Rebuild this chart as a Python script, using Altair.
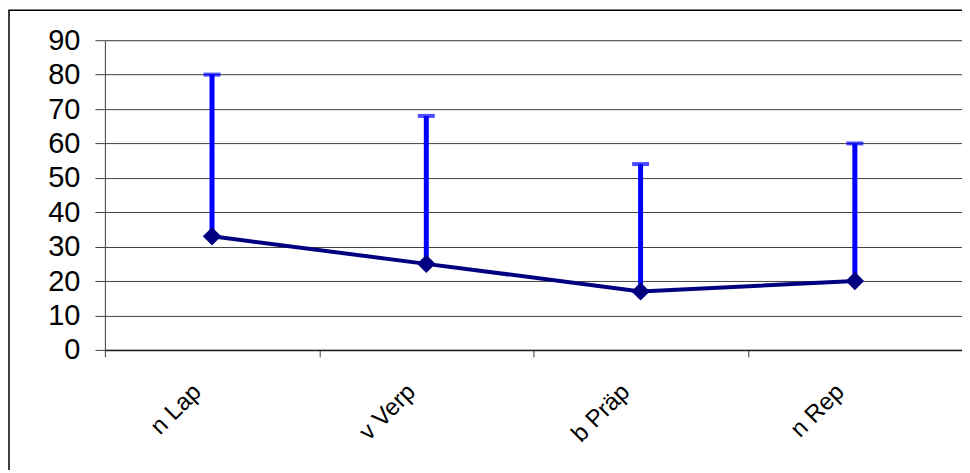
import altair as alt
import pandas as pd

categories = ["n Lap", "v Verp", "b Präp", "n Rep"]
means = [33, 25, 17, 20]
uppers = [80, 68, 54, 60]
y_ticks = [0, 10, 20, 30, 40, 50, 60, 70, 80, 90]

df = pd.DataFrame({"cat": categories, "mean": means, "upper": uppers})

W, H = 858, 310
PL, PT = 97, 32

xaxis = alt.Axis(title=None, labelAngle=-45, labelAlign="right", labelBaseline="middle",
                 tickBand="extent", grid=False, labelOffset=-15)
yaxis = alt.Axis(title=None, values=y_ticks, grid=True, labelOverlap=False)
xscale = alt.Scale(paddingInner=0, paddingOuter=0)
yscale = alt.Scale(domain=[0, 90])

xenc = alt.X("cat:N", sort=categories, scale=xscale, axis=xaxis)
yenc = alt.Y("mean:Q", scale=yscale, axis=yaxis)

base = alt.Chart(df)

frame = base.mark_rect(fill=None, stroke="black", strokeWidth=1.5).encode(
    x=alt.value(-96), x2=alt.value(W + 30), y=alt.value(-30), y2=alt.value(H + 200)
).transform_filter(alt.datum.cat == "n Lap")

err = base.mark_rule(color="#0000FF", strokeWidth=5).encode(x=xenc, y=yenc, y2="upper:Q")
cap = base.mark_tick(color="#0000FF", thickness=4, size=17, orient="horizontal").encode(
    x=xenc, y=alt.Y("upper:Q", scale=yscale, axis=yaxis))
line = base.mark_line(color="#000080", strokeWidth=4).encode(x=xenc, y=yenc)
pts = base.mark_point(shape="diamond", filled=True, color="#000080", size=340, opacity=1).encode(
    x=xenc, y=yenc)

chart = alt.layer(err, line, cap, pts, frame).properties(
    width=W, height=H,
    autosize=alt.AutoSizeParams(type="none"),
    padding={"left": PL, "top": PT, "right": 0, "bottom": 120},
).configure_view(stroke="#808080", strokeWidth=1.5).configure(background="white"
).configure_axis(labelFont="Liberation Sans", labelColor="black", labelOverlap=False
).configure_axisY(labelFontSize=29, labelPadding=15, tickSize=10, tickColor="#404040",
                  domainColor="#404040", gridColor="#404040", gridWidth=1
).configure_axisX(labelFontSize=24, labelPadding=31, tickSize=7, tickColor="#404040",
                  domainColor="#202020", domainWidth=1.5)

chart.save("out.html", embed_options={"renderer": "svg", "actions": False})
